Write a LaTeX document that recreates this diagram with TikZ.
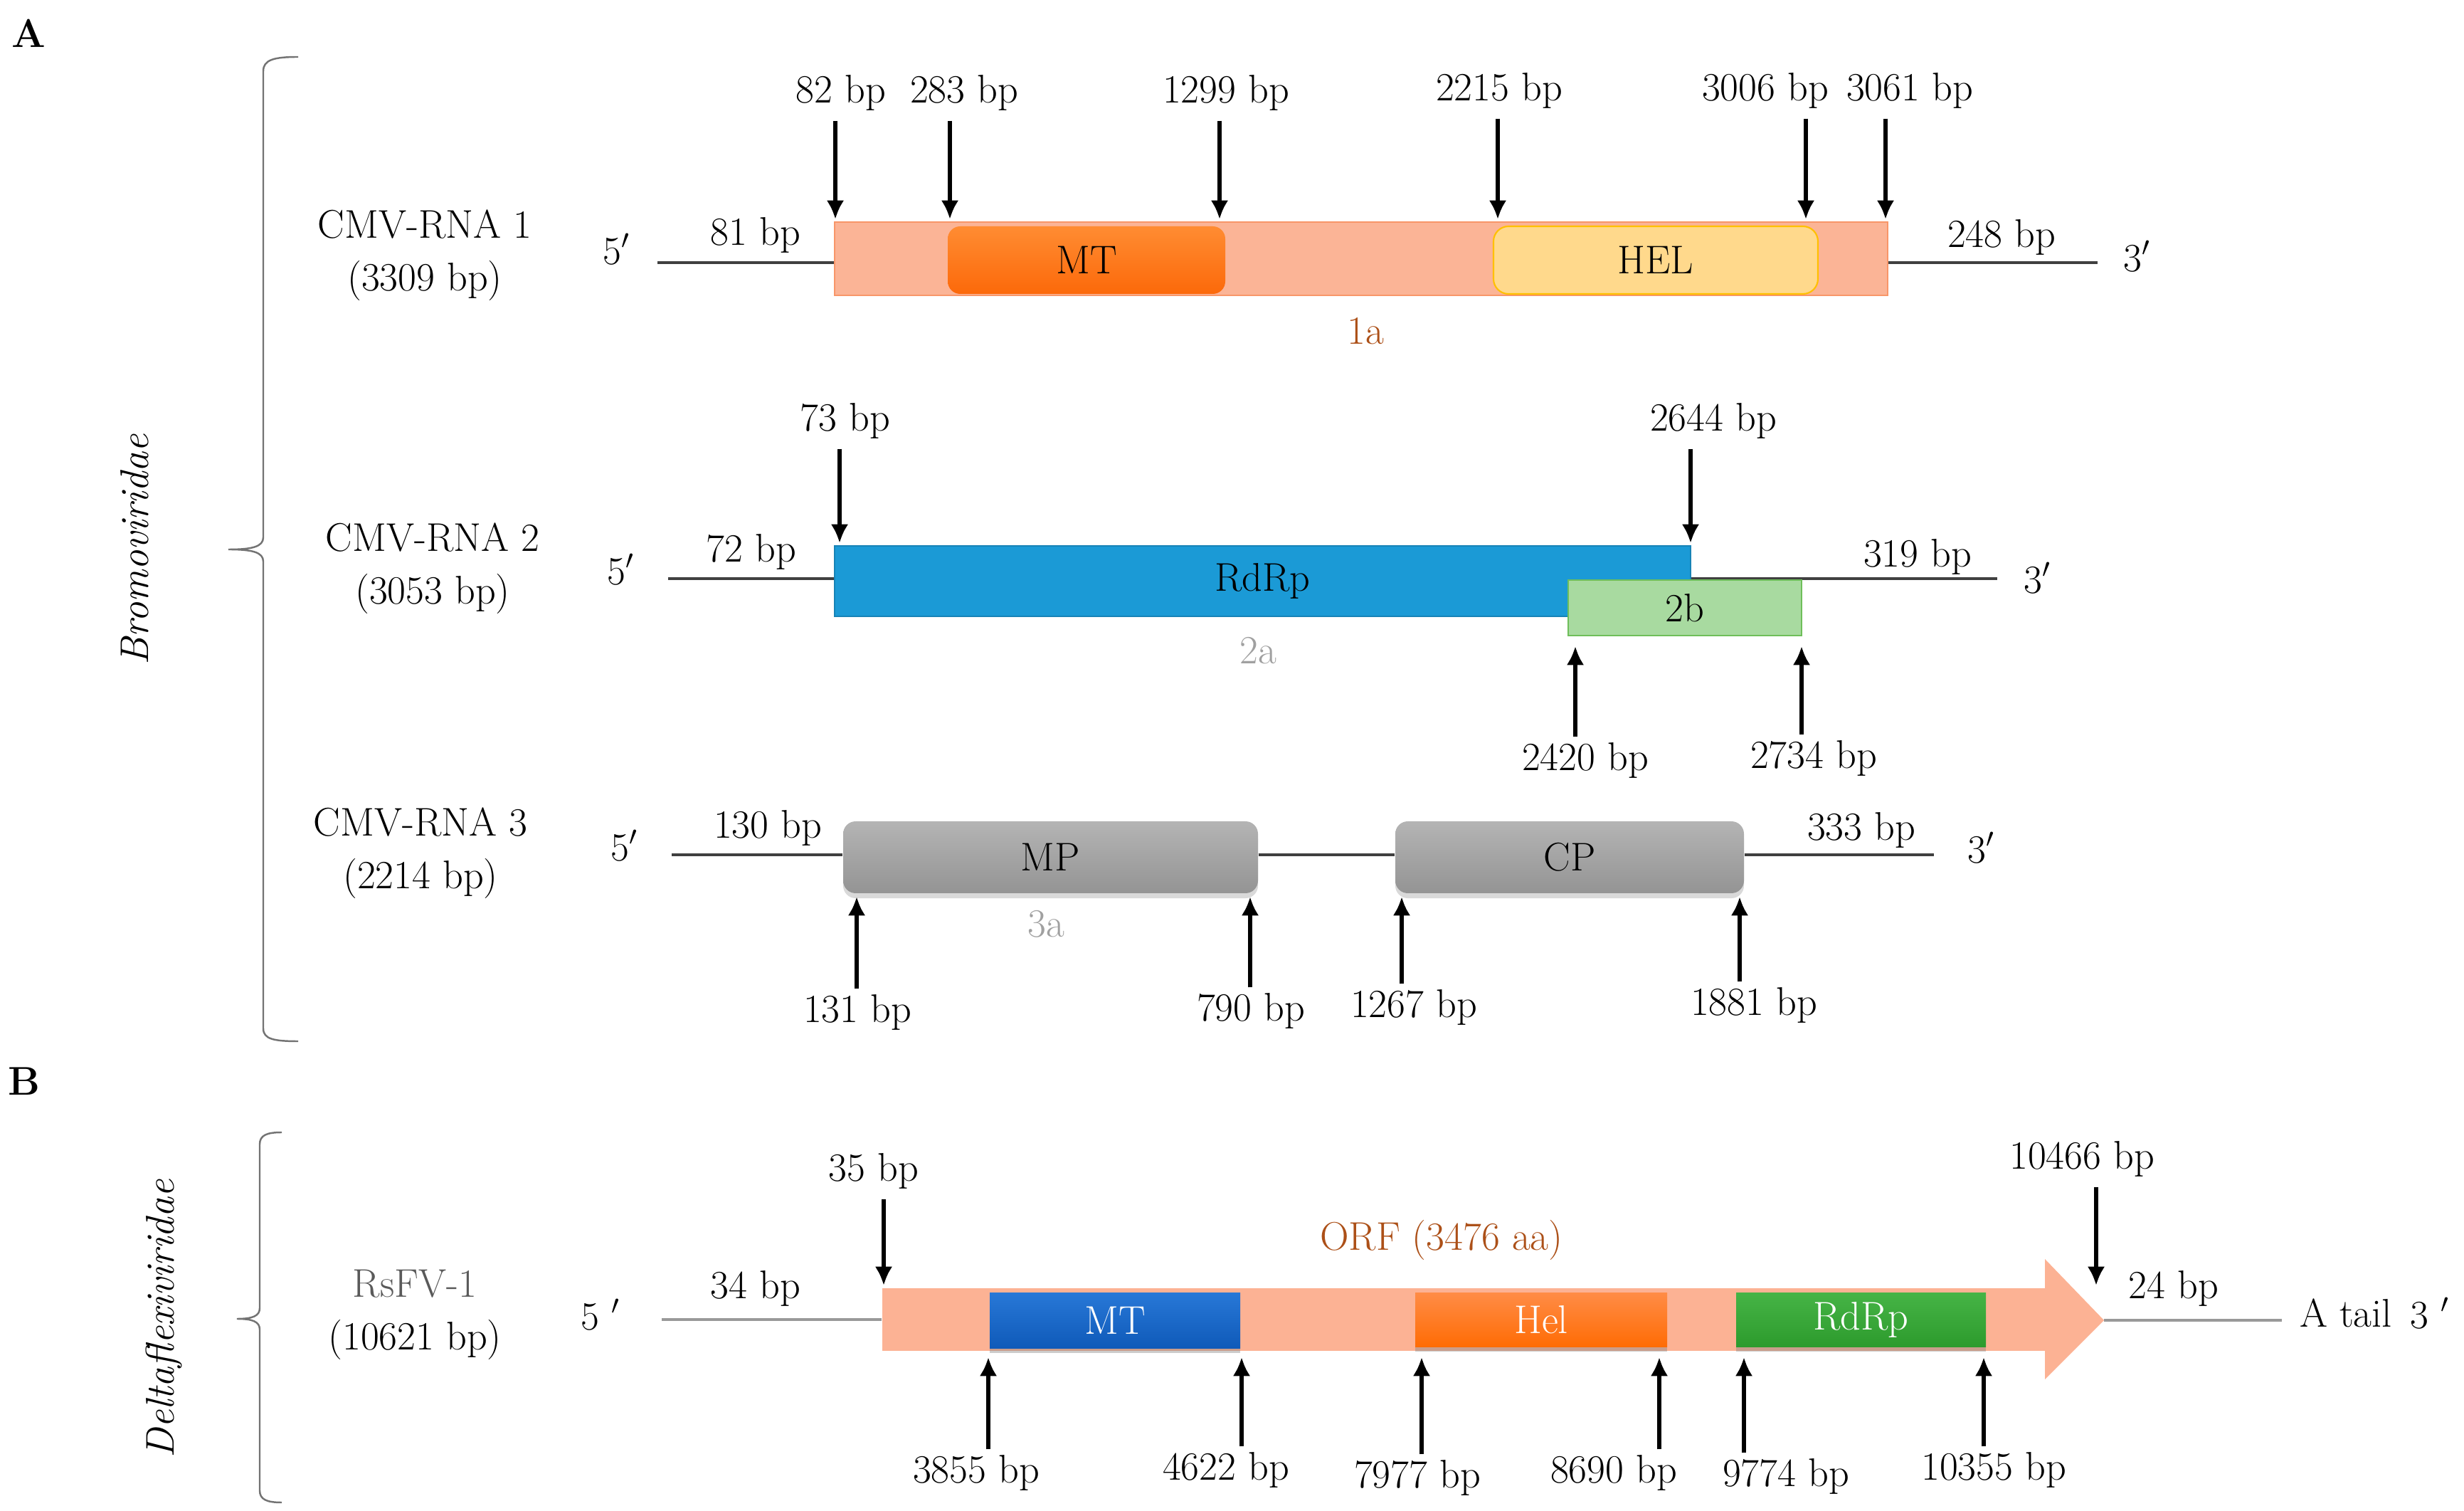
\documentclass[tikz,border=0pt]{standalone}
\usepackage{amsmath}
\usetikzlibrary{arrows.meta}
\usetikzlibrary{shadows}

\definecolor{salmon1}{RGB}{251,180,150}
\definecolor{salmonedge}{RGB}{248,150,105}
\definecolor{mttop}{RGB}{255,140,50}
\definecolor{mtbot}{RGB}{252,105,10}
\definecolor{helfill}{RGB}{255,217,140}
\definecolor{heledge}{RGB}{255,192,0}
\definecolor{rdrpblue}{RGB}{27,154,214}
\definecolor{twobfill}{RGB}{168,218,160}
\definecolor{twobedge}{RGB}{110,190,90}
\definecolor{mptop}{RGB}{180,180,180}
\definecolor{mpbot}{RGB}{148,148,148}
\definecolor{orfbrown}{RGB}{172,80,24}
\definecolor{orflight}{RGB}{160,160,160}
\definecolor{rsfvgrey}{RGB}{90,90,90}
\definecolor{bmttop}{RGB}{40,120,215}
\definecolor{bmtbot}{RGB}{15,90,185}
\definecolor{bheltop}{RGB}{255,140,70}
\definecolor{bhelbot}{RGB}{255,108,5}
\definecolor{brdrptop}{RGB}{70,180,70}
\definecolor{brdrpbot}{RGB}{45,155,45}
\definecolor{bsalmon}{RGB}{252,178,148}

\tikzset{
  txt/.style={inner sep=1pt, font=\fontsize{16}{21}\selectfont},
  bplab/.style={txt},
  seqname/.style={txt, align=center},
  panel/.style={txt, font=\fontsize{16}{21}\selectfont\bfseries},
  family/.style={txt, font=\fontsize{16}{21}\selectfont\itshape},
  rna/.style={line width=1pt, draw=black!75},
  rnaB/.style={line width=1.3pt, draw=black!40},
  brace/.style={line width=0.7pt, draw=black!55},
  dnarrow/.style={line width=1.8pt, -{Latex[length=7.5pt,width=7pt]}, shorten <=3pt},
  uparrow/.style={line width=1.8pt, -{Latex[length=7.5pt,width=7pt]}, shorten <=1pt},
  orf1/.style={rectangle, fill=salmon1, draw=salmonedge, line width=0.8pt, inner sep=0pt},
  mtbox/.style={rectangle, rounded corners=5pt, top color=mttop, bottom color=mtbot, inner sep=0pt, txt},
  helbox/.style={rectangle, rounded corners=6pt, fill=helfill, draw=heledge, line width=0.6pt, inner sep=0pt, txt},
  rdrpbox/.style={rectangle, fill=rdrpblue, draw=rdrpblue!85!black, line width=0.5pt, inner sep=0pt, txt},
  twobbox/.style={rectangle, fill=twobfill, draw=twobedge, line width=0.8pt, inner sep=0pt, txt},
  mpbox/.style={rectangle, rounded corners=5pt, top color=mptop, bottom color=mpbot, inner sep=0pt, txt,
    drop shadow={shadow xshift=0pt, shadow yshift=-2pt, opacity=0.3}},
  bdomain/.style={rectangle, inner sep=0pt, txt, text=white,
    drop shadow={shadow xshift=0pt, shadow yshift=-2pt, opacity=0.4}}
}

\begin{document}
\begin{tikzpicture}
\useasboundingbox (0,0) rectangle (34.63,-21.23);

\node[panel] (A) at (0.40,-0.47) {A};
\node[panel] (B) at (0.34,-15.19) {B};

\draw[brace] (4.19,-0.80) .. controls (3.85,-0.80) and (3.70,-0.84) .. (3.70,-1.00) -- (3.70,-7.55)
  .. controls (3.70,-7.68) and (3.55,-7.72) .. (3.21,-7.72)
  .. controls (3.55,-7.72) and (3.70,-7.76) .. (3.70,-7.89) -- (3.70,-14.45)
  .. controls (3.70,-14.60) and (3.85,-14.63) .. (4.19,-14.63);
\node[family, rotate=90] (bromo) at (1.89,-7.72) {Bromoviridae};

\draw[brace] (3.96,-15.91) .. controls (3.75,-15.91) and (3.65,-15.95) .. (3.65,-16.08) -- (3.65,-18.38)
  .. controls (3.65,-18.49) and (3.55,-18.53) .. (3.33,-18.53)
  .. controls (3.55,-18.53) and (3.65,-18.57) .. (3.65,-18.68) -- (3.65,-20.94)
  .. controls (3.65,-21.07) and (3.75,-21.11) .. (3.96,-21.11);
\node[family, rotate=90] (delta) at (2.30,-18.53) {Deltaflexiviridae};

% CMV-RNA 1
\node[seqname] (n1) at (5.97,-3.585) {CMV-RNA 1\\(3309 bp)};
\node[orf1, minimum width=14.80cm, minimum height=1.03cm] (r1) at (19.13,-3.635) {};
\node[mtbox, minimum width=3.90cm, minimum height=0.95cm] (mt1) at (15.27,-3.655) {MT};
\node[helbox, minimum width=4.56cm, minimum height=0.95cm] (hel1) at (23.27,-3.655) {HEL};
\coordinate (s1) at (9.24,-3.69);
\coordinate (e1) at (29.48,-3.69);
\draw[rna] (s1) -- (s1 -| r1.west);
\draw[rna] (r1.east |- e1) -- (e1);
\node[txt] (f1) at (8.67,-3.50) {5$'$};
\node[txt] (t1) at (30.04,-3.60) {3$'$};
\node[bplab] (u1) at (10.62,-3.30) {81 bp};
\node[bplab] (v1) at (28.13,-3.33) {248 bp};
\node[txt, text=orfbrown] (o1) at (19.19,-4.65) {1a};

\coordinate (p82) at (11.74,-3.08);
\coordinate (p283) at (13.35,-3.08);
\coordinate (p1299) at (17.14,-3.08);
\coordinate (p2215) at (21.05,-3.08);
\coordinate (p3006) at (25.38,-3.08);
\coordinate (p3061) at (26.50,-3.08);
\node[bplab] (l82) at (11.82,-1.30) {82 bp};
\node[bplab] (l283) at (13.55,-1.30) {283 bp};
\node[bplab] (l1299) at (17.23,-1.30) {1299 bp};
\node[bplab] (l2215) at (21.07,-1.27) {2215 bp};
\node[bplab] (l3006) at (24.81,-1.27) {3006 bp};
\node[bplab] (l3061) at (26.84,-1.27) {3061 bp};
\draw[dnarrow] (l82.south -| p82) -- (p82);
\draw[dnarrow] (l283.south -| p283) -- (p283);
\draw[dnarrow] (l1299.south -| p1299) -- (p1299);
\draw[dnarrow] (l2215.south -| p2215) -- (p2215);
\draw[dnarrow] (l3006.south -| p3006) -- (p3006);
\draw[dnarrow] (l3061.south -| p3061) -- (p3061);

% CMV-RNA 2
\node[seqname] (n2) at (6.08,-7.985) {CMV-RNA 2\\(3053 bp)};
\coordinate (s2) at (9.39,-8.13);
\coordinate (e2) at (28.07,-8.13);
\node[rdrpbox, minimum width=12.03cm, minimum height=0.99cm] (rdrp2) at (17.745,-8.165) {RdRp};
\draw[rna] (s2) -- (s2 -| rdrp2.west);
\draw[rna] (rdrp2.east |- e2) -- (e2);
\node[twobbox, minimum width=3.28cm, minimum height=0.78cm] (b2) at (23.68,-8.54) {2b};
\node[txt] (f2) at (8.73,-8.00) {5$'$};
\node[txt] (t2) at (28.64,-8.12) {3$'$};
\node[bplab] (u2) at (10.56,-7.75) {72 bp};
\node[bplab] (v2) at (26.95,-7.82) {319 bp};
\node[txt, text=orflight] (o2) at (17.68,-9.14) {2a};

\coordinate (p73) at (11.80,-7.63);
\coordinate (p2644) at (23.76,-7.63);
\node[bplab] (l73) at (11.88,-5.91) {73 bp};
\node[bplab] (l2644) at (24.08,-5.91) {2644 bp};
\draw[dnarrow] (l73.south -| p73) -- (p73);
\draw[dnarrow] (l2644.south -| p2644) -- (p2644);
\coordinate (p2420) at (22.14,-9.08);
\coordinate (p2734) at (25.32,-9.08);
\node[bplab] (l2420) at (22.28,-10.68) {2420 bp};
\node[bplab] (l2734) at (25.49,-10.65) {2734 bp};
\draw[uparrow] (l2420.north -| p2420) -- (p2420);
\draw[uparrow] (l2734.north -| p2734) -- (p2734);

% CMV-RNA 3
\node[seqname] (n3) at (5.91,-11.985) {CMV-RNA 3\\(2214 bp)};
\coordinate (s3) at (9.44,-12.01);
\coordinate (e3) at (27.18,-12.01);
\node[mpbox, minimum width=5.83cm, minimum height=1.01cm] (mp3) at (14.765,-12.045) {MP};
\node[mpbox, minimum width=4.90cm, minimum height=1.01cm] (cp3) at (22.06,-12.045) {CP};
\draw[rna] (s3) -- (s3 -| mp3.west);
\draw[rna] (mp3.east |- s3) -- (cp3.west |- s3);
\draw[rna] (cp3.east |- e3) -- (e3);
\node[txt] (f3) at (8.78,-11.88) {5$'$};
\node[txt] (t3) at (27.85,-11.91) {3$'$};
\node[bplab] (u3) at (10.79,-11.63) {130 bp};
\node[bplab] (v3) at (26.16,-11.66) {333 bp};
\node[txt, text=orflight] (o3) at (14.70,-12.98) {3a};

\coordinate (p131) at (12.04,-12.60);
\coordinate (p790) at (17.57,-12.60);
\coordinate (p1267) at (19.70,-12.60);
\coordinate (p1881) at (24.45,-12.60);
\node[bplab] (l131) at (12.05,-14.22) {131 bp};
\node[bplab] (l790) at (17.58,-14.20) {790 bp};
\node[bplab] (l1267) at (19.87,-14.15) {1267 bp};
\node[bplab] (l1881) at (24.65,-14.12) {1881 bp};
\draw[uparrow] (l131.north -| p131) -- (p131);
\draw[uparrow] (l790.north -| p790) -- (p790);
\draw[uparrow] (l1267.north -| p1267) -- (p1267);
\draw[uparrow] (l1881.north -| p1881) -- (p1881);

% RsFV-1
\node[seqname] (nB) at (5.83,-18.47) {\textcolor{rsfvgrey}{RsFV-1}\\(10621 bp)};
\node[rectangle, fill=bsalmon, inner sep=0pt, minimum width=16.36cm, minimum height=0.88cm] (orfB) at (20.575,-18.54) {};
\coordinate (tipB) at (29.57,-18.55);
\fill[bsalmon] (28.74,-17.69) -- (tipB) -- (28.74,-19.38) -- cycle;
\node[bdomain, top color=bmttop, bottom color=bmtbot, minimum width=3.52cm, minimum height=0.78cm] (mtB) at (15.67,-18.55) {MT};
\node[bdomain, top color=bheltop, bottom color=bhelbot, minimum width=3.54cm, minimum height=0.76cm] (helB) at (21.66,-18.54) {Hel};
\node[bdomain, top color=brdrptop, bottom color=brdrpbot, minimum width=3.51cm, minimum height=0.76cm] (rdrpB) at (26.155,-18.54) {RdRp};
\coordinate (sB) at (9.30,-18.54);
\coordinate (eB) at (32.07,-18.55);
\draw[rnaB] (sB) -- (sB -| orfB.west);
\draw[rnaB] (tipB) -- (eB);
\node[txt] (fB) at (8.44,-18.47) {5 $'$};
\node[txt] (tB) at (34.15,-18.45) {3 $'$};
\node[txt] (aB) at (32.97,-18.45) {A tail};
\node[bplab] (uB) at (10.62,-18.10) {34 bp};
\node[bplab] (vB) at (30.55,-18.10) {24 bp};
\node[txt, text=orfbrown] (oB) at (20.26,-17.42) {ORF (3476 aa)};

\coordinate (p35) at (12.42,-18.06);
\coordinate (p10466) at (29.46,-18.06);
\node[bplab] (l35) at (12.28,-16.45) {35 bp};
\node[bplab] (l10466) at (29.26,-16.28) {10466 bp};
\draw[dnarrow] (l35.south -| p35) -- (p35);
\draw[dnarrow] (l10466.south -| p10466) -- (p10466);
\coordinate (p3855) at (13.89,-19.07);
\coordinate (p4622) at (17.45,-19.07);
\coordinate (p7977) at (19.98,-19.07);
\coordinate (p8690) at (23.32,-19.07);
\coordinate (p9774) at (24.51,-19.07);
\coordinate (p10355) at (27.88,-19.07);
\node[bplab] (l3855) at (13.72,-20.69) {3855 bp};
\node[bplab] (l4622) at (17.23,-20.65) {4622 bp};
\node[bplab] (l7977) at (19.92,-20.76) {7977 bp};
\node[bplab] (l8690) at (22.68,-20.69) {8690 bp};
\node[bplab] (l9774) at (25.10,-20.74) {9774 bp};
\node[bplab] (l10355) at (28.02,-20.65) {10355 bp};
\draw[uparrow] (l3855.north -| p3855) -- (p3855);
\draw[uparrow] (l4622.north -| p4622) -- (p4622);
\draw[uparrow] (l7977.north -| p7977) -- (p7977);
\draw[uparrow] (l8690.north -| p8690) -- (p8690);
\draw[uparrow] (l9774.north -| p9774) -- (p9774);
\draw[uparrow] (l10355.north -| p10355) -- (p10355);
\end{tikzpicture}
\end{document}
